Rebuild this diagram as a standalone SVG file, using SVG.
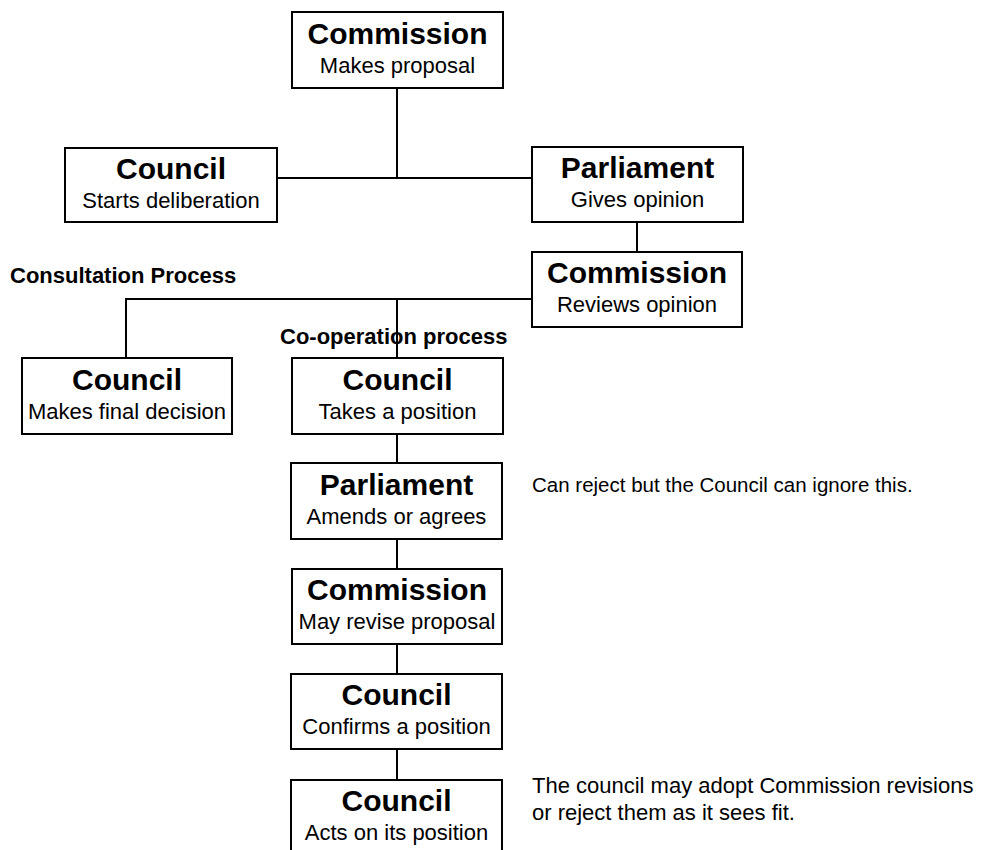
<svg xmlns="http://www.w3.org/2000/svg" width="986" height="850" viewBox="0 0 986 850">
<style>
.box{fill:#fff;stroke:#000;stroke-width:2}
.ln{fill:none;stroke:#000;stroke-width:2}
.t{font-family:"Liberation Sans",Arial,sans-serif;font-size:30px;font-weight:bold;text-anchor:middle;fill:#000}
.s{font-family:"Liberation Sans",Arial,sans-serif;font-size:22px;text-anchor:middle;fill:#000}
.lab{font-family:"Liberation Sans",Arial,sans-serif;font-size:22px;font-weight:bold;fill:#000}
.note{font-family:"Liberation Sans",Arial,sans-serif;font-size:22px;fill:#000}
.note.sm{font-size:20.5px}
</style>
<rect width="986" height="850" fill="#fff"/>
<g id="connectors">
<path class="ln" d="M397,88 V178 M277,178 H532"/>
<path class="ln" d="M637,222 V252"/>
<path class="ln" d="M126,358 V299 H532 M397,299 V358"/>
<path class="ln" d="M397,434 V463 M397,539 V569 M397,644 V674 M397,749 V780"/>
</g>
<g id="commission1"><rect class="box" x="292" y="12" width="211" height="76"/><text class="t" x="397.5" y="44">Commission</text><text class="s" x="397.5" y="73">Makes proposal</text></g>
<g id="council1"><rect class="box" x="65" y="148" width="212" height="74"/><text class="t" x="171" y="179">Council</text><text class="s" x="171" y="208">Starts deliberation</text></g>
<g id="parliament1"><rect class="box" x="532" y="147" width="211" height="75"/><text class="t" x="637.5" y="178">Parliament</text><text class="s" x="637.5" y="207">Gives opinion</text></g>
<g id="commission2"><rect class="box" x="532" y="252" width="210" height="75"/><text class="t" x="637" y="283">Commission</text><text class="s" x="637" y="312">Reviews opinion</text></g>
<g id="label-consultation"><text class="lab" x="10" y="283">Consultation Process</text></g>
<g id="label-cooperation"><text class="lab" x="280" y="344">Co-operation process</text></g>
<g id="council2"><rect class="box" x="22" y="358" width="210" height="76"/><text class="t" x="127" y="390">Council</text><text class="s" x="127" y="419">Makes final decision</text></g>
<g id="council3"><rect class="box" x="292" y="358" width="211" height="76"/><text class="t" x="397.5" y="390">Council</text><text class="s" x="397.5" y="419">Takes a position</text></g>
<g id="parliament2"><rect class="box" x="291" y="463" width="211" height="76"/><text class="t" x="396.5" y="495">Parliament</text><text class="s" x="396.5" y="524">Amends or agrees</text></g>
<g id="commission3"><rect class="box" x="292" y="569" width="210" height="75"/><text class="t" x="397" y="600">Commission</text><text class="s" x="397" y="629">May revise proposal</text></g>
<g id="council4"><rect class="box" x="291" y="674" width="211" height="75"/><text class="t" x="396.5" y="705">Council</text><text class="s" x="396.5" y="734">Confirms a position</text></g>
<g id="council5"><rect class="box" x="291" y="780" width="211" height="80"/><text class="t" x="396.5" y="811">Council</text><text class="s" x="396.5" y="840">Acts on its position</text></g>
<g id="note1"><text class="note sm" x="532" y="492">Can reject but the Council can ignore this.</text></g>
<g id="note2"><text class="note" x="532" y="793">The council may adopt Commission revisions</text><text class="note" x="532" y="820">or reject them as it sees fit.</text></g>
</svg>
